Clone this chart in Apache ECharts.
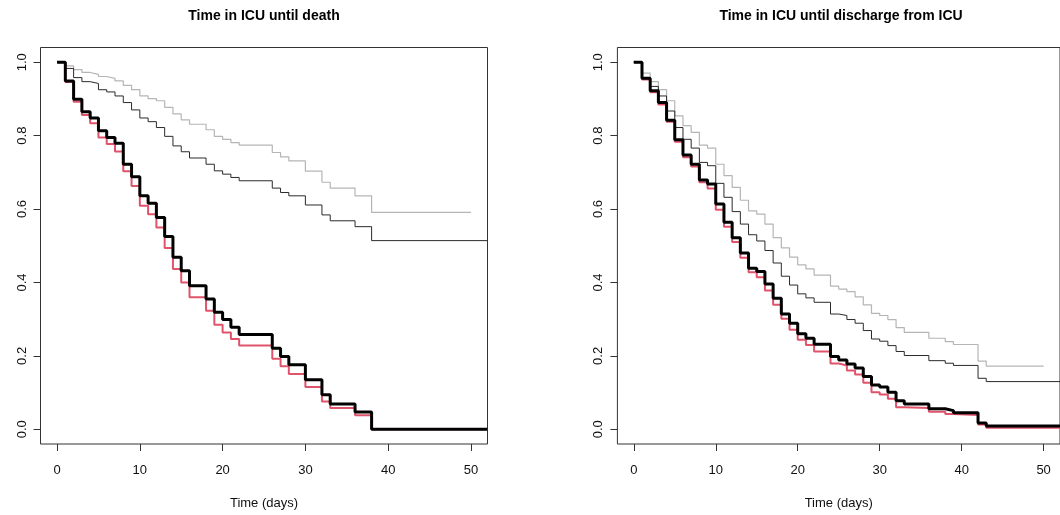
<!DOCTYPE html>
<html>
<head>
<meta charset="utf-8">
<script src="https://cdn.jsdelivr.net/npm/echarts@6/dist/echarts.min.js"></script>
<style>
html,body{margin:0;padding:0;background:#fff;}
#chart{width:1060px;height:515px;}
</style>
</head>
<body>
<div id="chart"></div>
<script>
// ---------- data ----------
const titles = ["Time in ICU until death", "Time in ICU until discharge from ICU"];
const xAxisTitle = "Time (days)";
const xTicks = [0, 10, 20, 30, 40, 50];
const yTicks = [0, 0.2, 0.4, 0.6, 0.8, 1.0];

// Left panel: time in ICU until death
const timesDeath = [0,1,2,3,4,5,6,7,8,9,10,11,12,13,14,15,16,18,19,20,21,22,26,27,28,30,32,33,36,38];
const deathBlack = [1,0.949,0.899,0.865,0.848,0.813,0.795,0.779,0.722,0.688,0.636,0.616,0.577,0.525,0.469,0.432,0.391,0.355,0.319,0.299,0.278,0.258,0.221,0.198,0.176,0.135,0.094,0.069,0.047,0];
const deathRed = [1,0.946,0.892,0.856,0.834,0.795,0.777,0.757,0.703,0.663,0.609,0.586,0.550,0.494,0.437,0.400,0.360,0.323,0.285,0.264,0.246,0.228,0.192,0.172,0.151,0.115,0.076,0.058,0.038,0];
const deathDarkGrey = [1,0.983,0.958,0.947,0.942,0.925,0.919,0.908,0.890,0.870,0.848,0.838,0.822,0.798,0.772,0.756,0.739,0.722,0.704,0.695,0.686,0.677,0.657,0.645,0.636,0.611,0.584,0.568,0.552,0.514];
const deathLightGrey = [1,0.990,0.980,0.972,0.967,0.961,0.956,0.949,0.937,0.925,0.908,0.901,0.895,0.877,0.859,0.843,0.831,0.816,0.798,0.790,0.781,0.774,0.754,0.742,0.731,0.703,0.673,0.657,0.636,0.591];

// Right panel: time in ICU until discharge from ICU
const timesDischarge = [0,1,2,3,4,5,6,7,8,9,10,11,12,13,14,15,16,17,18,19,20,21,22,24,25,26,27,28,29,30,31,32,33,36,38,39,42,43];
const dischBlack = [1,0.956,0.922,0.890,0.842,0.789,0.747,0.722,0.679,0.668,0.614,0.564,0.522,0.480,0.439,0.430,0.396,0.357,0.314,0.289,0.260,0.248,0.232,0.198,0.189,0.178,0.167,0.144,0.121,0.115,0.101,0.078,0.069,0.056,0.051,0.045,0.017,0.009];
const dischRed = [1,0.953,0.918,0.885,0.838,0.783,0.741,0.716,0.673,0.656,0.598,0.552,0.510,0.467,0.428,0.414,0.378,0.339,0.301,0.271,0.244,0.230,0.212,0.179,0.174,0.160,0.149,0.127,0.101,0.095,0.083,0.060,0.058,0.048,0.042,0.039,0.013,0.004];
const dischDarkGrey = [1,0.958,0.934,0.908,0.867,0.822,0.790,0.766,0.727,0.718,0.670,0.632,0.593,0.559,0.530,0.513,0.487,0.453,0.417,0.393,0.369,0.358,0.346,0.314,0.310,0.299,0.289,0.269,0.246,0.240,0.228,0.212,0.201,0.187,0.180,0.174,0.139,0.130];
const dischLightGrey = [1,0.970,0.947,0.925,0.895,0.854,0.827,0.809,0.774,0.766,0.722,0.691,0.659,0.624,0.595,0.586,0.559,0.522,0.494,0.469,0.448,0.437,0.420,0.390,0.382,0.375,0.361,0.339,0.316,0.310,0.299,0.277,0.264,0.248,0.239,0.231,0.186,0.172];

// follow-up end times of each curve (last horizontal segment)
const endBlack = 52, endRed = 52, endDarkGrey = 52, endLightGrey = 50;

// ---------- chart ----------
const FONT = "'Liberation Sans', Arial, Helvetica, sans-serif";
const chart = echarts.init(document.getElementById('chart'), null, {renderer: 'canvas'});

function steps(times, vals, endT) {
  const d = times.map((t, i) => [t, vals[i]]);
  d.push([endT, vals[vals.length - 1]]);
  return d;
}

const grids = [
  {left: 40.5, top: 47.5, width: 447, height: 397.5},
  {left: 617.4, top: 47.5, width: 447, height: 397.5}
];

function xAx(i) {
  return {
    type: 'value', gridIndex: i, min: -2, max: 52,
    name: xAxisTitle, nameLocation: 'middle', nameGap: 53,
    nameTextStyle: {fontFamily: FONT, fontSize: 13, color: '#111'},
    axisLine: {show: false, onZero: false},
    axisTick: {show: true, inside: false, length: 7, lineStyle: {color: '#333', width: 1}, customValues: xTicks},
    axisLabel: {show: true, margin: 20, fontFamily: FONT, fontSize: 13, color: '#111', customValues: xTicks,
      formatter: v => String(v)},
    splitLine: {show: false}
  };
}
function yAx(i) {
  return {
    type: 'value', gridIndex: i, min: -0.04, max: 1.04,
    axisLine: {show: false, onZero: false},
    axisTick: {show: true, inside: false, length: 7, lineStyle: {color: '#333', width: 1}, customValues: yTicks},
    axisLabel: {show: true, margin: 12, rotate: 90, fontFamily: FONT, fontSize: 13, color: '#111', customValues: yTicks,
      formatter: v => Number(v).toFixed(1)},
    splitLine: {show: false}
  };
}

function line(idx, data, color, width) {
  return {
    type: 'line', xAxisIndex: idx, yAxisIndex: idx, step: 'end', data: data,
    symbol: 'none', showSymbol: false, animation: false, silent: true,
    lineStyle: {color: color, width: width}
  };
}

const series = [
  line(0, steps(timesDeath, deathLightGrey, endLightGrey), '#b5b5b5', 1.2),
  line(0, steps(timesDeath, deathDarkGrey, endDarkGrey), '#2a2a2a', 1),
  line(0, steps(timesDeath, deathRed, endRed), '#DF536B', 2),
  line(0, steps(timesDeath, deathBlack, endBlack), '#000000', 3),
  line(1, steps(timesDischarge, dischLightGrey, endLightGrey), '#b5b5b5', 1.2),
  line(1, steps(timesDischarge, dischDarkGrey, endDarkGrey), '#2a2a2a', 1),
  line(1, steps(timesDischarge, dischRed, endRed), '#DF536B', 2),
  line(1, steps(timesDischarge, dischBlack, endBlack), '#000000', 3)
];

chart.setOption({
  animation: false,
  backgroundColor: '#ffffff',
  title: [
    {text: titles[0], left: 264, top: 9, textAlign: 'center', padding: 0,
     textStyle: {fontFamily: FONT, fontSize: 14, fontWeight: 'bold', color: '#000'}},
    {text: titles[1], left: 841, top: 9, textAlign: 'center', padding: 0,
     textStyle: {fontFamily: FONT, fontSize: 14, fontWeight: 'bold', color: '#000'}}
  ],
  grid: grids.map(g => Object.assign({show: true, borderColor: '#333', borderWidth: 1, backgroundColor: 'transparent', containLabel: false}, g)),
  xAxis: [xAx(0), xAx(1)],
  yAxis: [yAx(0), yAx(1)],
  series: series
});
</script>
</body>
</html>
